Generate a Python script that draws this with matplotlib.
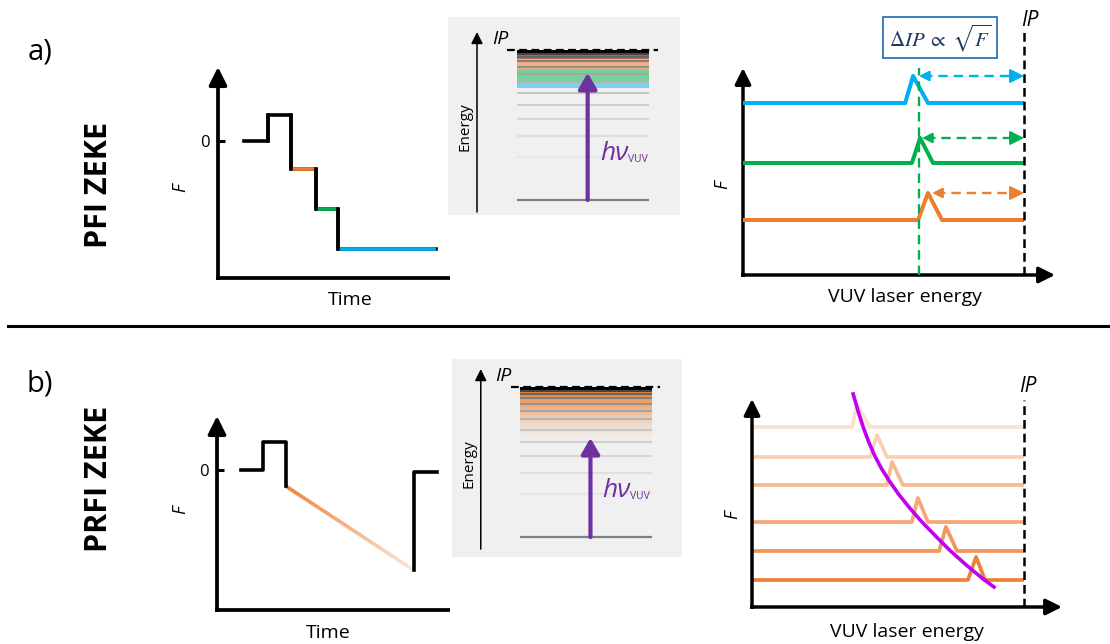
import numpy as np
import matplotlib
matplotlib.use('Agg')
import matplotlib.pyplot as plt
from matplotlib.patches import Rectangle
from matplotlib.collections import LineCollection
from matplotlib.colors import to_rgb

W, H = 1110, 644
plt.rcParams['font.family'] = ['Open Sans', 'DejaVu Sans']
plt.rcParams['mathtext.fontset'] = 'stix'

# ---------------- data ----------------
# (a) PFI: stepped pulsed field (F, arb. units) vs time (arb. units)
pfi_time = [1.12, 2.16, 3.15, 4.22, 5.17, 9.4]
pfi_field = [0.0, 1.0, -1.08, -2.62, -4.15]
pfi_step_colors = ['black', 'black', '#ed7d31', '#00b050', '#00b0f0']

# (b) PRFI: pulsed ramped field
prfi_time = [1.03, 1.97, 2.96, 8.45, 9.44]
prfi_field = [0.0, 1.08, -0.62, -3.85, -0.08]
prfi_ramp_colors = ['#ed7d31', '#fbe5d6']

# Rydberg levels (energy: ground = 0, IP = 1)
rydberg_E = [0.287, 0.427, 0.54, 0.633, 0.713, 0.787, 0.84, 0.887, 0.927, 0.953, 0.973]
rydberg_grey = ['#e6e6e6', '#dedede', '#d6d6d6', '#cfcfcf', '#c6c6c6', '#b4b4b4',
                '#a4a4a4', '#939393', '#808080', '#666666', '#444444']
pfi_band_edges = [0.747, 0.793, 0.873, 0.94, 0.975]
pfi_band_colors = ['#7dd0f2', '#74d19d', '#f4b183', '#b8675c']
photon_top_pfi = 0.847
photon_top_prfi = 0.66

# PFI-ZEKE spectra (VUV energy, IP = 100)
ip_energy = 100
pfi_spec_colors = ['#00b0f0', '#00b050', '#ed7d31']
pfi_base = [17.2, 11.2, 5.5]
pfi_height = [2.7, 2.5, 2.7]
pfi_rise = [57.7, 60.1, 62.3]
pfi_peak = [60.5, 63.0, 65.8]
pfi_fall = [65.8, 67.6, 70.8]
pfi_arrow_start = [62.6, 63.7, 67.3]
pfi_threshold = 62.6

# PRFI-ZEKE spectra
prfi_spec_colors = ['#fbe1ce', '#f9d0b3', '#f6bb92', '#f4a877', '#f2975c', '#ee8139']
prfi_base = [18.0, 15.0, 12.2, 8.5, 5.6, 2.7]
prfi_height = [2.2, 2.2, 2.3, 2.4, 2.4, 2.3]
prfi_rise = [36.8, 43.4, 49.6, 58.8, 68.8, 79.4]
prfi_peak = [38.6, 46.0, 51.5, 61.0, 71.3, 82.4]
prfi_fall = [43.4, 49.6, 55.5, 64.7, 75.4, 85.7]
shift_x = [37.2, 39.0, 41.0, 43.0, 45.0, 47.5, 50.5, 54.0, 58.0, 62.5, 67.5, 73.0, 79.0, 85.0, 89.0]
shift_y = [21.3, 19.6, 17.9, 16.45, 15.2, 13.9, 12.6, 11.25, 9.9, 8.5, 7.1, 5.6, 4.15, 2.8, 2.0]

# ---------------- figure ----------------
fig = plt.figure(figsize=(W / 100, H / 100), dpi=100)
bg = fig.add_axes([0, 0, 1, 1])
bg.set_xlim(0, W)
bg.set_ylim(H, 0)
bg.axis('off')


def px_axes(x0, y0, x1, y1, xlim, ylim, face=None):
    ax = fig.add_axes([x0 / W, 1 - y1 / H, (x1 - x0) / W, (y1 - y0) / H])
    ax.set_xlim(*xlim)
    ax.set_ylim(*ylim)
    for s in ax.spines.values():
        s.set_visible(False)
    ax.set_xticks([])
    ax.set_yticks([])
    if face:
        ax.set_facecolor(face)
    else:
        ax.patch.set_alpha(0)
    return ax


def axis_lines(ax, x_arrow, lw=2.7, ms=18):
    ap = dict(arrowstyle='-|>,head_length=0.6,head_width=0.3', lw=lw, color='black',
              shrinkA=0, shrinkB=0, mutation_scale=ms)
    ax.annotate('', xy=(0, 1), xytext=(0, 0), xycoords='axes fraction',
                textcoords='axes fraction', arrowprops=ap, annotation_clip=False)
    if x_arrow:
        ax.annotate('', xy=(1, 0), xytext=(0, 0), xycoords='axes fraction',
                    textcoords='axes fraction', arrowprops=ap, annotation_clip=False)
    else:
        ax.plot([0, 1], [0, 0], transform=ax.transAxes, color='black', lw=lw,
                solid_capstyle='butt', clip_on=False)
    ax.plot([0], [0], marker='s', ms=lw, color='black', transform=ax.transAxes,
            clip_on=False, mew=0)


def zero_tick(ax):
    ax.set_yticks([0])
    ax.set_yticklabels(['0'])
    ax.tick_params(axis='y', direction='in', length=5, width=2.2, labelsize=12, pad=6)


# ---- (a) time plot ----
ax1 = px_axes(218, 67, 450, 278, (0, 10), (-5.27, 2.85))
axis_lines(ax1, x_arrow=False)
zero_tick(ax1)
xs, ys = [], []
for i in range(len(pfi_field)):
    xs += [pfi_time[i], pfi_time[i + 1]]
    ys += [pfi_field[i], pfi_field[i]]
ax1.plot(xs, ys, color='black', lw=2.6, zorder=2)
for i, c in enumerate(pfi_step_colors):
    if c != 'black':
        ax1.plot([pfi_time[i], pfi_time[i + 1]], [pfi_field[i]] * 2, color=c, lw=2.6,
                 solid_capstyle='butt', zorder=3)
for i in range(len(pfi_field) - 1):
    ax1.plot([pfi_time[i + 1]] * 2, [pfi_field[i], pfi_field[i + 1]], color='black',
             lw=2.6, solid_capstyle='projecting', zorder=4)

# ---- (b) time plot ----
ax2 = px_axes(217, 416, 450, 610, (0, 10), (-5.38, 2.08))
axis_lines(ax2, x_arrow=False)
zero_tick(ax2)
ax2.plot([prfi_time[0], prfi_time[1], prfi_time[1], prfi_time[2], prfi_time[2]],
         [prfi_field[0], prfi_field[0], prfi_field[1], prfi_field[1], prfi_field[2]],
         color='black', lw=2.6, zorder=3)
ax2.plot([prfi_time[3], prfi_time[3], prfi_time[4]],
         [prfi_field[3], prfi_field[4], prfi_field[4]], color='black', lw=2.6, zorder=3)
n = 60
tt = np.linspace(prfi_time[2], prfi_time[3], n + 1)
ff = np.linspace(prfi_field[2], prfi_field[3], n + 1)
segs = [[(tt[k], ff[k]), (tt[k + 1], ff[k + 1])] for k in range(n)]
c0, c1 = np.array(to_rgb(prfi_ramp_colors[0])), np.array(to_rgb(prfi_ramp_colors[1]))
cols = [tuple(c0 + (c1 - c0) * k / (n - 1)) for k in range(n)]
ax2.add_collection(LineCollection(segs, colors=cols, lw=2.6, capstyle='butt', zorder=2))

# ---- energy diagrams ----
LEV_X = (0.297, 0.868)


def energy_panel(box, ylim, photon_top, kind):
    ax = px_axes(*box, (0, 1), ylim, face='#f0f0f0')
    if kind == 'pfi':
        for i, c in enumerate(pfi_band_colors):
            ax.fill_between(LEV_X, pfi_band_edges[i], pfi_band_edges[i + 1], color=c,
                            lw=0, zorder=1)
    else:
        E = np.linspace(0.6, 0.975, 200)
        alpha = np.clip((E - 0.6) / 0.35, 0, 1) ** 1.8
        img = np.zeros((200, 1, 4))
        img[..., :3] = to_rgb('#f0883a')
        img[:, 0, 3] = alpha
        ax.imshow(img, extent=[LEV_X[0], LEV_X[1], 0.6, 0.975], origin='lower',
                  aspect='auto', zorder=1, interpolation='bilinear')
        ax.set_xlim(0, 1)
        ax.set_ylim(*ylim)
    ax.fill_between(LEV_X, 0.975, 1.0, color='black', lw=0, zorder=1)
    ax.hlines(rydberg_E, LEV_X[0], LEV_X[1], colors=rydberg_grey, lw=1.5, zorder=2)
    ax.hlines(0, LEV_X[0], LEV_X[1], color='#7f7f7f', lw=1.6, zorder=2)
    ax.plot([0.255, 0.905], [1, 1], color='black', lw=1.6, dashes=(3.5, 2), zorder=3,
            clip_on=False)
    ax.annotate('', xy=(0.125, 1.12), xytext=(0.125, -0.08),
                arrowprops=dict(arrowstyle='-|>,head_length=0.5,head_width=0.25', lw=1.1,
                                color='black', shrinkA=0, shrinkB=0, mutation_scale=14))
    ax.text(0.075, 0.487, 'Energy', rotation=90, ha='center', va='center', fontsize=11)
    ax.text(0.225, 1.075, 'IP', style='italic', fontsize=14, ha='center', va='center')
    ax.annotate('', xy=(0.602, photon_top), xytext=(0.602, 0),
                arrowprops=dict(arrowstyle='-|>,head_length=0.6,head_width=0.35', lw=3,
                                color='#7030a0', shrinkA=0, shrinkB=0, mutation_scale=16),
                zorder=4)
    ax.text(0.655, 0.27, 'hν', style='italic', fontsize=19, color='#7030a0',
            ha='left', va='baseline')
    ax.text(0.775, 0.255, 'VUV', fontsize=7.5, color='#7030a0', ha='left', va='baseline')
    return ax


energy_panel((448, 17, 680, 215), (-0.1, 1.22), photon_top_pfi, 'pfi')
energy_panel((452, 359, 682, 557), (-0.133, 1.187), photon_top_prfi, 'prfi')

# ---- (a) spectra ----
ax5 = px_axes(743, 68, 1055, 275, (0, 111), (0, 20.7))
axis_lines(ax5, x_arrow=True, lw=2.5, ms=16)
for i, c in enumerate(pfi_spec_colors):
    b, h = pfi_base[i], pfi_height[i]
    ax5.plot([0, pfi_rise[i], pfi_peak[i], pfi_fall[i], ip_energy], [b, b, b + h, b, b],
             color=c, lw=2.9, solid_joinstyle='round', solid_capstyle='butt', zorder=3)
    y = b + h
    ax5.plot([pfi_arrow_start[i] + 1.5, ip_energy - 2.5], [y, y], color=c, lw=1.7,
             dashes=(4, 2.5), zorder=2)
    ax5.annotate('', xy=(ip_energy, y), xytext=(ip_energy - 3, y),
                 arrowprops=dict(arrowstyle='-|>,head_length=0.7,head_width=0.35', lw=1.5,
                                 color=c, shrinkA=0, shrinkB=0, mutation_scale=12))
    ax5.annotate('', xy=(pfi_arrow_start[i], y), xytext=(pfi_arrow_start[i] + 2.5, y),
                 arrowprops=dict(arrowstyle='-|>,head_length=0.6,head_width=0.3', lw=1.5,
                                 color=c, shrinkA=0, shrinkB=0, mutation_scale=10))
ax5.plot([pfi_threshold] * 2, [0, 20.7], color='#00b050', lw=1.7, dashes=(4, 2.5), zorder=4)
ax5.plot([ip_energy] * 2, [0, 24.3], color='black', lw=1.8, dashes=(3.5, 2), clip_on=False,
         zorder=4)

# ---- (b) spectra ----
ax6 = px_axes(752, 399, 1062, 607, (0, 114), (0, 20.8))
axis_lines(ax6, x_arrow=True, lw=2.5, ms=16)
for i, c in enumerate(prfi_spec_colors):
    b, h = prfi_base[i], prfi_height[i]
    ax6.plot([0, prfi_rise[i], prfi_peak[i], prfi_fall[i], ip_energy], [b, b, b + h, b, b],
             color=c, lw=2.7, solid_joinstyle='round', solid_capstyle='butt', zorder=2)
ax6.plot(shift_x, shift_y, color='#c000f0', lw=2.6, clip_on=False, zorder=3,
         solid_joinstyle='round')
ax6.plot([ip_energy] * 2, [0, 20.7], color='black', lw=1.8, dashes=(3.5, 2), clip_on=False,
         zorder=4)

# ---- layout text ----
bg.plot([8, 1110], [326, 326], color='black', lw=2.2)
bg.text(40, 52, 'a)', fontsize=21, ha='center', va='center')
bg.text(40, 384, 'b)', fontsize=21, ha='center', va='center')
bg.text(99, 185, 'PFI ZEKE', rotation=90, fontsize=22, fontweight='bold',
        ha='center', va='center')
bg.text(99, 479, 'PRFI ZEKE', rotation=90, fontsize=22, fontweight='bold',
        ha='center', va='center')
for (x, y) in [(180, 188), (180, 510), (722, 185), (732, 515)]:
    bg.text(x, y, 'F', style='italic', rotation=90, fontsize=13, ha='center', va='center')
bg.text(350, 300, 'Time', fontsize=14, ha='center', va='center')
bg.text(328, 633, 'Time', fontsize=14, ha='center', va='center')
bg.text(905, 297, 'VUV laser energy', fontsize=14, ha='center', va='center')
bg.text(907, 632, 'VUV laser energy', fontsize=14, ha='center', va='center')
bg.text(1030, 20, 'IP', style='italic', fontsize=15, ha='center', va='center')
bg.text(1028, 386, 'IP', style='italic', fontsize=15, ha='center', va='center')
bg.add_patch(Rectangle((883, 17), 114, 41, facecolor='white', edgecolor='#2e75b6', lw=1.3))
bg.text(940, 38, r'$\Delta IP\;\propto\;\sqrt{F}$', fontsize=15, color='#1f3864',
        ha='center', va='center')

fig.savefig('out.png', dpi=100)
